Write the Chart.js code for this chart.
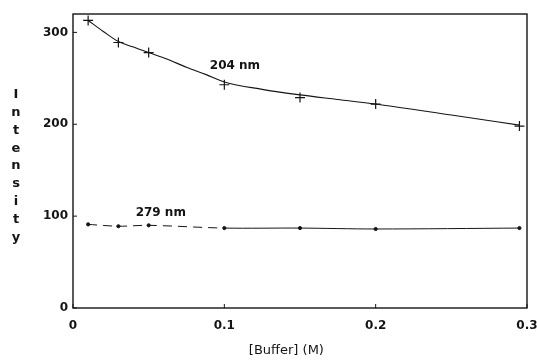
<!DOCTYPE html>
<html>
<head>
<meta charset="utf-8">
<script src="https://cdn.jsdelivr.net/npm/chart.js@4.4.1/dist/chart.umd.min.js"></script>
<style>
  html, body { margin: 0; padding: 0; background: #fff; overflow: hidden; }
  canvas { display: block; }
</style>
</head>
<body>
<canvas id="chart" width="537" height="360"></canvas>
<script>
const buffer = [0.01, 0.03, 0.05, 0.1, 0.15, 0.2, 0.295];
const int204 = [313, 289, 278, 243, 229, 222, 198];
const int279 = [91, 89, 90, 87, 87, 86, 87];
// drawn smooth curve through the 204 nm points, also
const fitX = [0.01, 0.02, 0.03, 0.04, 0.05, 0.062, 0.075, 0.088, 0.1, 0.125, 0.15, 0.175, 0.2, 0.25, 0.295];
const fit204 = [313, 301, 290, 284, 278, 271, 262, 254, 246, 238, 232, 227, 222, 210, 199];
const xTicks = [0, 0.1, 0.2, 0.3];
const yTicks = [0, 100, 200, 300];
const curveLabels = ['204 nm', '279 nm'];
const labelX = [0.107, 0.058];
const labelY = [263, 103];
const yTitle = 'Intensity';
const xTitle = '[Buffer] (M)';

const ink = '#141414';
const tickFont = { family: 'DejaVu Sans', size: 12, weight: 'bold' };

// frame, inward ticks, curve labels, axis titles
const extras = {
  id: 'extras',
  afterDatasetsDraw(chart) {
    const { ctx, chartArea: a, scales: { x, y } } = chart;
    ctx.save();
    ctx.strokeStyle = ink;
    ctx.lineWidth = 1.4;
    ctx.strokeRect(a.left, a.top, a.right - a.left, a.bottom - a.top);
    ctx.lineWidth = 1;
    ctx.beginPath();
    yTicks.forEach(v => {
      const py = y.getPixelForValue(v);
      ctx.moveTo(a.left, py); ctx.lineTo(a.left + 4, py);
    });
    xTicks.forEach(v => {
      const px = x.getPixelForValue(v);
      ctx.moveTo(px, a.bottom); ctx.lineTo(px, a.bottom - 4);
    });
    ctx.stroke();

    ctx.fillStyle = ink;
    ctx.font = 'bold 12px "DejaVu Sans"';
    ctx.textAlign = 'center';
    ctx.textBaseline = 'middle';
    curveLabels.forEach((t, i) => {
      ctx.fillText(t, x.getPixelForValue(labelX[i]), y.getPixelForValue(labelY[i]));
    });

    // x title sits a little left of the plot centre in the original
    ctx.font = '13px "DejaVu Sans"';
    ctx.fillText(xTitle, a.left + (a.right - a.left) * 0.47, chart.height - 9);

    // y title: letters stacked one under another
    ctx.font = 'bold 13px "DejaVu Sans"';
    const letters = yTitle.split('');
    const step = 17.8;
    const mid = (a.top + a.bottom) / 2 + 5;
    letters.forEach((c, i) => {
      ctx.fillText(c, 16, mid + (i - (letters.length - 1) / 2) * step);
    });
    ctx.restore();
  }
};

new Chart(document.getElementById('chart'), {
  type: 'line',
  data: {
    datasets: [{
      label: '204 nm fit',
      data: fitX.map((b, i) => ({ x: b, y: fit204[i] })),
      borderColor: ink,
      borderWidth: 1.1,
      cubicInterpolationMode: 'monotone',
      pointRadius: 0,
      fill: false
    }, {
      label: '204 nm',
      data: buffer.map((b, i) => ({ x: b, y: int204[i] })),
      showLine: false,
      pointStyle: 'cross',
      pointRadius: 5,
      pointBorderWidth: 1.2,
      pointBorderColor: ink
    }, {
      label: '279 nm',
      data: buffer.map((b, i) => ({ x: b, y: int279[i] })),
      borderColor: ink,
      borderWidth: 1,
      tension: 0.3,
      pointStyle: 'circle',
      pointRadius: 1.6,
      pointBackgroundColor: ink,
      pointBorderColor: ink,
      segment: {
        borderDash: c => c.p0.parsed.x < 0.09 ? [9, 6] : undefined
      },
      fill: false
    }]
  },
  options: {
    responsive: false,
    animation: false,
    layout: { padding: { top: 14, right: 0, left: 0, bottom: 0 } },
    plugins: { legend: { display: false }, tooltip: { enabled: false } },
    scales: {
      x: {
        type: 'linear',
        min: 0,
        max: 0.3,
        afterFit: s => { s.height = 52; s.paddingRight = 10; },
        afterBuildTicks: s => { s.ticks = xTicks.map(v => ({ value: v })); },
        grid: { display: false, drawTicks: false },
        border: { display: false },
        ticks: { color: ink, font: tickFont, padding: 11, maxRotation: 0,
                 callback: v => v === 0 ? '0' : String(v) }
      },
      y: {
        min: 0,
        max: 320,
        afterFit: s => { s.width = 73; },
        afterBuildTicks: s => { s.ticks = yTicks.map(v => ({ value: v })); },
        grid: { display: false, drawTicks: false },
        border: { display: false },
        ticks: { color: ink, font: tickFont, padding: 5 }
      }
    }
  },
  plugins: [extras]
});
</script>
</body>
</html>
